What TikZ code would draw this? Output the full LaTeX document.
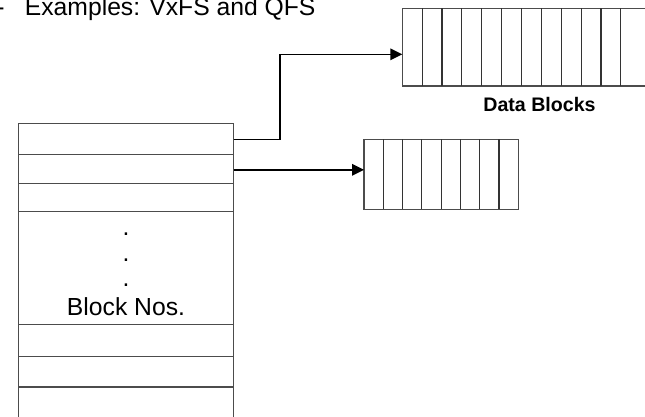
\documentclass[tikz,border=0pt]{standalone}
\usepackage{fontspec}
\setmainfont{Liberation Sans}
\usetikzlibrary{arrows.meta}

\begin{document}
\begin{tikzpicture}[x=1pt,y=-1pt,>={Triangle[length=12pt,width=11.5pt]},
  box/.style={draw=black!70,line width=1.2pt},
  cell/.style={draw=black!80,line width=1.1pt},
  conn/.style={->,line width=1.5pt}]
  \useasboundingbox (0,0) rectangle (645,416);

  % inode table
  \coordinate (TL) at (18.5,123.3);
  \coordinate (TR) at (233.5,123.3);
  \coordinate (p1) at (233.5,139.3);
  \coordinate (p2) at (233.5,169.8);

  % data block strips
  \coordinate (d1) at (402.3,54.3);
  \coordinate (d2) at (364,169.8);

  % table sides and top
  \draw[box] (18.5,430) -- (TL) -- (TR) -- (233.5,430);
  \foreach \y in {154.7,183.7,211.3,324.7,356.3,387}
    \draw[box] (18.5,\y) -- (233.5,\y);

  % dots and label
  \foreach \y [count=\i] in {235.6,261.2,286.4}
    \node[inner sep=0pt,anchor=base,font=\fontsize{24.7}{30}\selectfont] (dot\i) at (126,\y) {.};
  \node[inner sep=0pt,anchor=base,font=\fontsize{24.7}{30}\selectfont] (nos) at (126,315.7) {Block Nos.};

  % first strip, runs off the right edge
  \draw[box] (660,8.3) -- (402.3,8.3) -- (402.3,86) -- (660,86);
  \foreach \k in {1,...,11}
    \draw[cell] (402.3+19.87*\k,8.3) -- (402.3+19.87*\k,86);

  % second strip
  \draw[box] (364,139.3) rectangle (518.3,209.3);
  \foreach \k in {1,...,7}
    \draw[cell] (364+19.29*\k,139.3) -- (364+19.29*\k,209.3);

  % pointers
  \draw[conn] (p1) -- ++(46.5,0) |- (d1);
  \draw[conn] (p2) -- (d2);

  % text
  \node[inner sep=0pt,anchor=base,font=\bfseries\fontsize{19.6}{24}\selectfont] (db) at (539.5,111) {Data Blocks};
  \node[inner sep=0pt,anchor=base west,font=\fontsize{24.7}{30}\selectfont] (title) at (-3.8,15.5)
    {-\hspace{20.3pt}Examples: VxFS and QFS};
\end{tikzpicture}
\end{document}
